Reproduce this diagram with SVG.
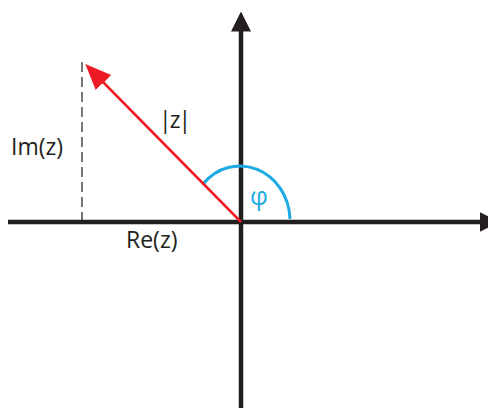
<svg xmlns="http://www.w3.org/2000/svg" width="488" height="408" viewBox="0 0 488 408">
<style>
.axis{stroke:#231f20;stroke-width:4.5;fill:none}
.lbl{font-family:"Open Sans","Noto Sans",sans-serif;font-size:23px;fill:#231f20}
</style>
<defs>
<marker id="ah" markerUnits="userSpaceOnUse" markerWidth="20" markerHeight="20" refX="2" refY="8" orient="auto" viewBox="0 0 16 16">
<path d="M0,0 L16,8 L0,16 Z" fill="#231f20"/>
</marker>
<marker id="rh" markerUnits="userSpaceOnUse" markerWidth="26" markerHeight="26" refX="2" refY="10" orient="auto" viewBox="0 0 24 20">
<path d="M0,0 L24,10 L0,20 Z" fill="#ed1c24"/>
</marker>
</defs>
<g id="connectors">
<line id="dash" x1="82" y1="62" x2="82" y2="222" stroke="#555" stroke-width="1.6" stroke-dasharray="10,5"/>
<line id="xaxis" class="axis" x1="8" y1="222" x2="482" y2="222" marker-end="url(#ah)"/>
<line id="yaxis" class="axis" x1="241" y1="408" x2="241" y2="29" marker-end="url(#ah)"/>
<path id="arc" d="M290,219 A50,55 0 0 0 203,184" fill="none" stroke="#1cabe2" stroke-width="3"/>
<line id="vec" x1="241" y1="222" x2="102" y2="81" stroke="#ed1c24" stroke-width="2.5" marker-end="url(#rh)"/>
</g>
<g id="labels">
<text class="lbl" x="11" y="155">Im(z)</text>
<text class="lbl" x="126" y="248">Re(z)</text>
<text class="lbl" x="159" y="128" letter-spacing="-2">|z|</text>
<text class="lbl" x="250" y="205" style="fill:#1cabe2;font-size:25px">φ</text>
</g>
</svg>
